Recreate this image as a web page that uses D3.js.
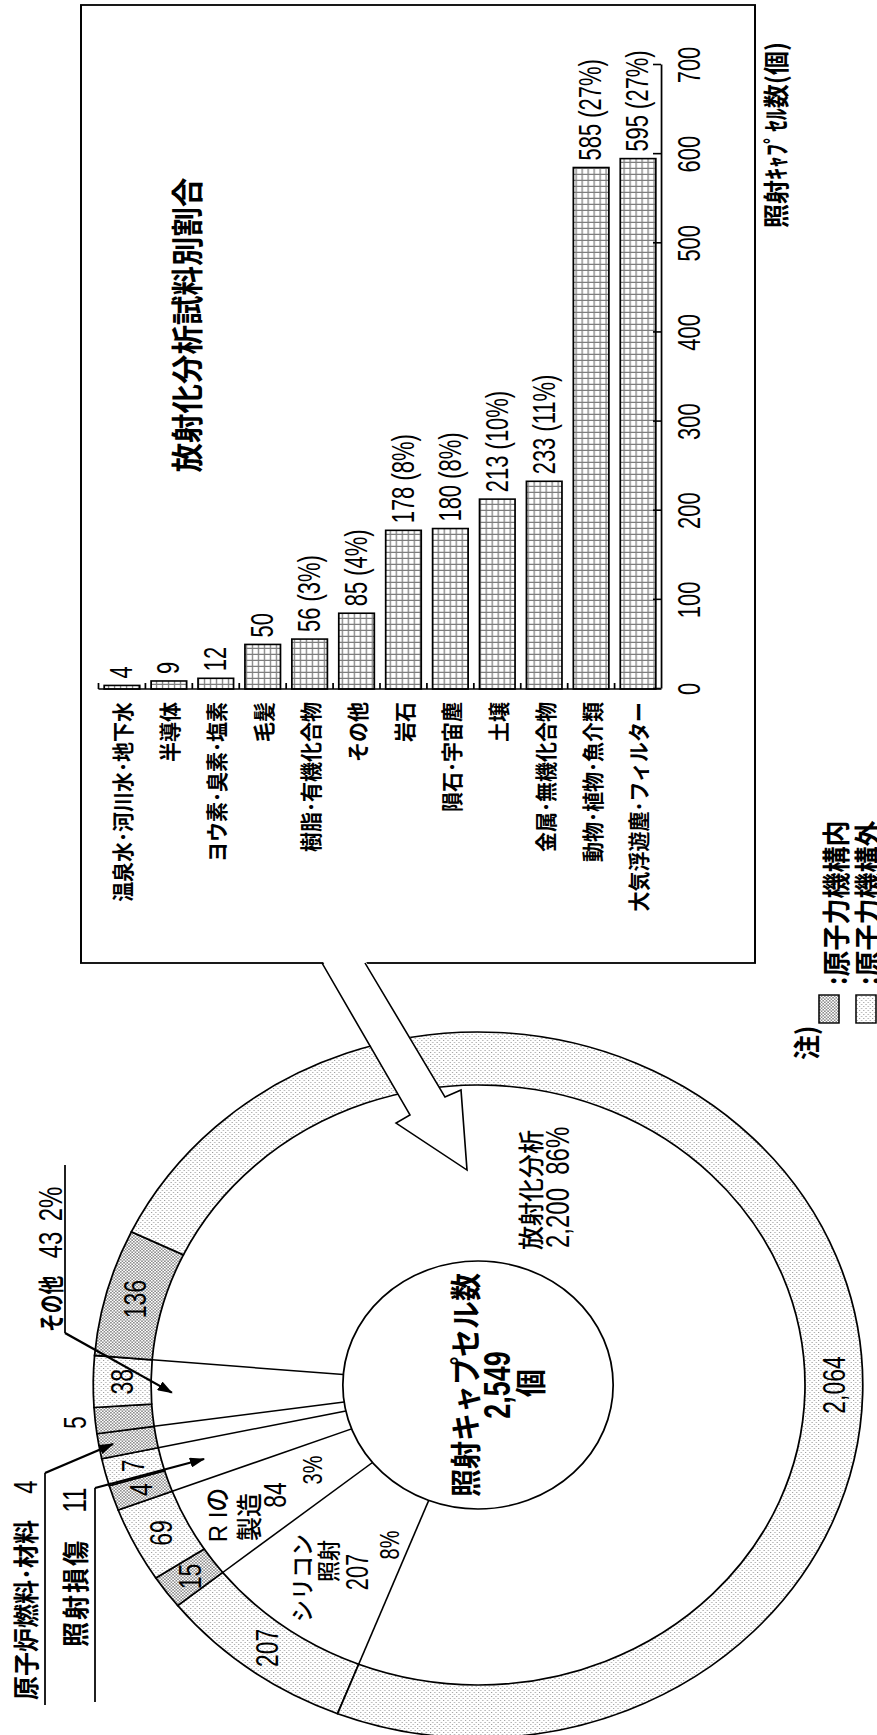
<!DOCTYPE html>
<html lang="ja"><head><meta charset="utf-8">
<script src="https://cdn.jsdelivr.net/npm/d3@7/dist/d3.min.js"></script>
<style>html,body{margin:0;padding:0;background:#fff}svg{display:block}</style>
</head><body><svg id="chart" width="877" height="1735"></svg>
<script>
// ---------------- DATA ----------------
const barCategories = ["温泉水･河川水･地下水","半導体","ヨウ素･臭素･塩素","毛髪","樹脂･有機化合物","その他","岩石","隕石･宇宙塵","土壌","金属･無機化合物","動物･植物･魚介類","大気浮遊塵･フィルター"];
const barValues   = [4, 9, 12, 50, 56, 85, 178, 180, 213, 233, 585, 595];
const barPercents = [null, null, null, null, 3, 4, 8, 8, 10, 11, 27, 27];
const valueTicks  = [0, 100, 200, 300, 400, 500, 600, 700];

const ringCategories   = ["シリコン照射","RIの製造","照射損傷","原子炉燃料・材料","その他","放射化分析"];
const insideCounts     = [0, 15, 4, 4, 5, 136];      // 原子力機構内
const outsideCounts    = [207, 69, 7, 0, 38, 2064];  // 原子力機構外
const categoryTotals   = [207, 84, 11, 4, 43, 2200];
const categoryPercents = [8, 3, null, null, 2, 86];
const totalCapsules    = 2549;

// ---------------- SETUP ----------------
const W = 877, H = 1735, SY = 1.09;
const Y = v => v / SY;
const JP  = "'Noto Sans CJK JP','Noto Sans CJK SC',sans-serif";
const LAT = "'Liberation Sans',Arial,'Noto Sans CJK JP',sans-serif";
const fmt = d3.format(",");
const NUM_K = 1.28, NUM_SX = 0.78;   // tall, narrow digits

const svg = d3.select("#chart");
const defs = svg.append("defs");

const pIn = defs.append("pattern").attr("id","patIn").attr("patternUnits","userSpaceOnUse").attr("width",3).attr("height",3);
pIn.append("rect").attr("width",3).attr("height",3).attr("fill","#fff");
pIn.append("rect").attr("width",1.5).attr("height",1.5).attr("fill","#8c8c8c");
pIn.append("rect").attr("x",1.5).attr("y",1.5).attr("width",1.5).attr("height",1.5).attr("fill","#8c8c8c");

const pOut = defs.append("pattern").attr("id","patOut").attr("patternUnits","userSpaceOnUse").attr("width",4).attr("height",4);
pOut.append("rect").attr("width",4).attr("height",4).attr("fill","#fff");
pOut.append("rect").attr("width",1).attr("height",1).attr("fill","#999");
pOut.append("rect").attr("x",2).attr("y",2).attr("width",1).attr("height",1).attr("fill","#999");

const pGrid = defs.append("pattern").attr("id","grid").attr("patternUnits","userSpaceOnUse").attr("width",6).attr("height",5.5);
pGrid.append("rect").attr("width",6).attr("height",5.5).attr("fill","#fff");
pGrid.append("path").attr("d","M0,0.6H6M0.6,0V5.5").attr("stroke","#7d7d7d").attr("stroke-width",1.3);

defs.append("marker").attr("id","ah").attr("viewBox","0 0 14 10").attr("refX",13).attr("refY",5)
  .attr("markerWidth",14).attr("markerHeight",10).attr("markerUnits","userSpaceOnUse").attr("orient","auto")
  .append("path").attr("d","M0,0 L14,5 L0,10 z").attr("fill","#000");

const root = svg.append("g").attr("transform", `translate(0,${H}) rotate(-90) scale(1,${SY})`);

function txt(parent, x, y, s, o = {}) {
  let size = o.size || 22, sx = o.sx || 1;
  if (o.num) { size *= NUM_K; sx = NUM_SX; }
  const t = parent.append("text")
    .attr("x", 0).attr("y", 0)
    .attr("transform", `translate(${x},${y}) scale(${sx},1)`)
    .attr("font-family", o.jp ? JP : LAT)
    .attr("font-size", size)
    .attr("font-weight", o.weight || 400)
    .attr("text-anchor", o.anchor || "start")
    .attr("dominant-baseline", "central")
    .attr("fill", "#000")
    .style("white-space", "pre")
    .text(s);
  if (o.ls) t.attr("letter-spacing", o.ls);
  return t;
}

// ---------------- DONUT ----------------
const CX = 350, CYd = Y(478);
const R_OUT = 353, R_IN = 300, R_CORE = 124, K = 28.65;
const START = 291.4 * Math.PI / 180;

const ringData = [];
ringCategories.forEach((c, i) => {
  if (insideCounts[i] > 0)  ringData.push({cat: i, kind: "in",  value: insideCounts[i]});
  if (outsideCounts[i] > 0) ringData.push({cat: i, kind: "out", value: outsideCounts[i]});
});
const pie = d3.pie().sort(null).value(d => d.value + K).startAngle(START).endAngle(START + 2 * Math.PI);
const arcs = pie(ringData);
const ringArc = d3.arc().innerRadius(R_IN).outerRadius(R_OUT);

const donut = root.append("g").attr("transform", `translate(${CX},${CYd})`);
donut.selectAll("path.seg").data(arcs).join("path").attr("class","seg")
  .attr("d", ringArc)
  .attr("fill", d => d.data.kind === "in" ? "url(#patIn)" : "url(#patOut)")
  .attr("stroke", "#000").attr("stroke-width", 1.6);
donut.append("circle").attr("r", R_CORE).attr("fill", "#fff").attr("stroke", "#000").attr("stroke-width", 1.6);

const catStart = ringCategories.map((c, i) => d3.min(arcs.filter(a => a.data.cat === i), a => a.startAngle));
const catEnd   = ringCategories.map((c, i) => d3.max(arcs.filter(a => a.data.cat === i), a => a.endAngle));
const catMid   = catStart.map((s, i) => (s + catEnd[i]) / 2);
const pt = (r, a) => [r * Math.sin(a), -r * Math.cos(a)];

donut.selectAll("line.sep").data(catStart).join("line").attr("class","sep")
  .attr("x1", a => pt(R_CORE, a)[0]).attr("y1", a => pt(R_CORE, a)[1])
  .attr("x2", a => pt(R_IN, a)[0]).attr("y2", a => pt(R_IN, a)[1])
  .attr("stroke", "#000").attr("stroke-width", 1.5);

const maxVal = d3.max(ringData, d => d.value);
arcs.forEach(a => {
  const i = a.data.cat;
  if (a.data.kind === "in" && i === 3) return;          // labelled by call-out
  let r = (R_IN + R_OUT) / 2, ang = (a.startAngle + a.endAngle) / 2;
  if (a.data.kind === "in" && i === 4) r = R_OUT + 19;  // small slice labelled outside
  if (a.data.value === maxVal) ang = Math.PI;
  const p = pt(r, ang);
  txt(donut, p[0], p[1], fmt(a.data.value), {size: 23, anchor: "middle", num: true});
});

// centre text
txt(root, 350, Y(463), "照射キャプセル数", {jp: true, size: 28, weight: 700, anchor: "middle"});
txt(root, 350, Y(497), fmt(totalCapsules), {size: 27, weight: 700, anchor: "middle", num: true});
txt(root, 352, Y(528), "個", {jp: true, size: 28, weight: 700, anchor: "middle"});

// category texts inside
txt(root, 485, Y(530), "放射化分析", {jp: true, size: 24, weight: 500});
txt(root, 487, Y(557), fmt(categoryTotals[5]) + "\u00a0\u00a0" + categoryPercents[5] + "%", {size: 24, num: true});

txt(root, 220, Y(218), "R Iの", {size: 24, weight: 500, anchor: "middle"});
txt(root, 218, Y(248), "製造", {jp: true, size: 24, weight: 500, anchor: "middle"});
txt(root, 240, Y(275), String(categoryTotals[1]), {size: 23, anchor: "middle", num: true});
txt(root, 265, Y(312), categoryPercents[1] + "%", {size: 20, anchor: "middle", num: true});

txt(root, 157, Y(301), "シリコン", {jp: true, size: 22, weight: 500, anchor: "middle"});
txt(root, 174, Y(327), "照射", {jp: true, size: 21, weight: 500, anchor: "middle"});
txt(root, 163, Y(358), String(categoryTotals[0]), {size: 22, anchor: "middle", num: true});
txt(root, 190, Y(389), categoryPercents[0] + "%", {size: 20, anchor: "middle", num: true});

// call-outs
const callouts = [
  {cat: 4, r: 281, from: [402, 65], line: [402, 570]},
  {cat: 3, r: 340, from: [262, 45], line: [30, 262]},
  {cat: 2, r: 262, from: [247, 95], line: [33, 247]}
];
callouts.forEach(c => {
  root.append("line").attr("x1", c.line[0]).attr("x2", c.line[1]).attr("y1", Y(c.from[1])).attr("y2", Y(c.from[1]))
    .attr("stroke", "#000").attr("stroke-width", 1.6);
  const p = pt(c.r, catMid[c.cat]);
  root.append("line").attr("x1", c.from[0]).attr("y1", Y(c.from[1])).attr("x2", CX + p[0]).attr("y2", CYd + p[1])
    .attr("stroke", "#000").attr("stroke-width", 2.2).attr("marker-end", "url(#ah)");
});
txt(root, 403, Y(50), "その他", {jp: true, size: 24, weight: 700, sx: 0.78});
txt(root, 490, Y(50), String(categoryTotals[4]), {size: 24, weight: 400, anchor: "middle", num: true});
txt(root, 531, Y(50), categoryPercents[4] + "%", {size: 24, weight: 400, anchor: "middle", num: true});
txt(root, 35, Y(25), "原子炉燃料･材料", {jp: true, size: 24, weight: 700});
txt(root, 248, Y(25), String(categoryTotals[3]), {size: 24, weight: 400, anchor: "middle", num: true});
txt(root, 88, Y(74.5), "照射損傷", {jp: true, size: 25, weight: 700, ls: 2});
txt(root, 235, Y(74.5), String(categoryTotals[2]), {size: 24, weight: 400, anchor: "middle", num: true});

// ---------------- INSET BOX + BAR CHART ----------------
root.append("rect").attr("x", 772).attr("y", Y(81)).attr("width", 958).attr("height", Y(755) - Y(81))
  .attr("fill", "none").attr("stroke", "#000").attr("stroke-width", 1.8);

const xBar = d3.scaleLinear().domain([0, 700]).range([1046, 1670]);
const yBar = d3.scaleBand().domain(barCategories).range([Y(98.5), Y(661.5)]).paddingInner(0.243).paddingOuter(0.1215);

root.append("g").selectAll("rect").data(barValues).join("rect")
  .attr("x", xBar(0)).attr("y", (d, i) => yBar(barCategories[i]))
  .attr("width", d => xBar(d) - xBar(0)).attr("height", yBar.bandwidth())
  .attr("fill", "url(#grid)").attr("stroke", "#000").attr("stroke-width", 1.6);

const axV = root.append("g").attr("transform", `translate(0,${Y(661)})`)
  .call(d3.axisBottom(xBar).tickValues(valueTicks).tickSizeInner(-8 / SY).tickSizeOuter(0).tickFormat(() => ""));
axV.select(".domain").attr("stroke", "#000").attr("stroke-width", 1.6);
axV.selectAll(".tick line").attr("stroke", "#000").attr("stroke-width", 1.6);
valueTicks.forEach(v => txt(root, xBar(v), Y(690), String(v), {size: 22, anchor: "middle", num: true}));

root.append("line").attr("x1", xBar(0)).attr("x2", xBar(0)).attr("y1", yBar.range()[0]).attr("y2", yBar.range()[1])
  .attr("stroke", "#000").attr("stroke-width", 1.6);
root.append("g").selectAll("line").data(d3.range(barCategories.length)).join("line")
  .attr("x1", xBar(0)).attr("x2", xBar(0) + 6)
  .attr("y1", k => yBar.range()[0] + k * yBar.step()).attr("y2", k => yBar.range()[0] + k * yBar.step())
  .attr("stroke", "#000").attr("stroke-width", 1.6);

barCategories.forEach((c, i) => {
  const yc = yBar(c) + yBar.bandwidth() / 2;
  txt(root, 1033, yc, c, {jp: true, size: 20, weight: 700, anchor: "end"});
  const lab = barPercents[i] == null ? String(barValues[i]) : `${barValues[i]} (${barPercents[i]}%)`;
  txt(root, xBar(barValues[i]) + 7, yc, lab, {size: 22, num: true});
});

txt(root, 1410, Y(185), "放射化分析試料別割合", {jp: true, size: 29.5, weight: 700, anchor: "middle"});
txt(root, 1693, Y(775), "照射ｷｬﾌﾟｾﾙ数(個)", {jp: true, size: 24, weight: 700, anchor: "end"});

// ---------------- BIG ARROW ----------------
const arrowPts = [[775,322],[620,410],[612,396],[565,467],[645,461],[638,445],[775,365]].map(p => [p[0], Y(p[1])]);
root.append("polygon").attr("points", arrowPts.map(p => p.join(",")).join(" ")).attr("fill", "#fff").attr("stroke", "none");
root.append("polyline").attr("points", arrowPts.map((p, i) => (i === 0 || i === arrowPts.length - 1 ? [772, p[1]] : p).join(",")).join(" "))
  .attr("fill", "none").attr("stroke", "#000").attr("stroke-width", 1.5);

// ---------------- LEGEND ----------------
txt(root, 675, Y(806), "注)", {jp: true, size: 25, weight: 700});
root.append("rect").attr("x", 712).attr("y", Y(819)).attr("width", 28).attr("height", Y(20))
  .attr("fill", "url(#patIn)").attr("stroke", "#000").attr("stroke-width", 1.4);
root.append("rect").attr("x", 712).attr("y", Y(856)).attr("width", 28).attr("height", Y(20))
  .attr("fill", "url(#patOut)").attr("stroke", "#000").attr("stroke-width", 1.4);
txt(root, 750, Y(834), ":原子力機構内", {jp: true, size: 26, weight: 700});
txt(root, 750, Y(866), ":原子力機構外", {jp: true, size: 26, weight: 700});
</script></body></html>
